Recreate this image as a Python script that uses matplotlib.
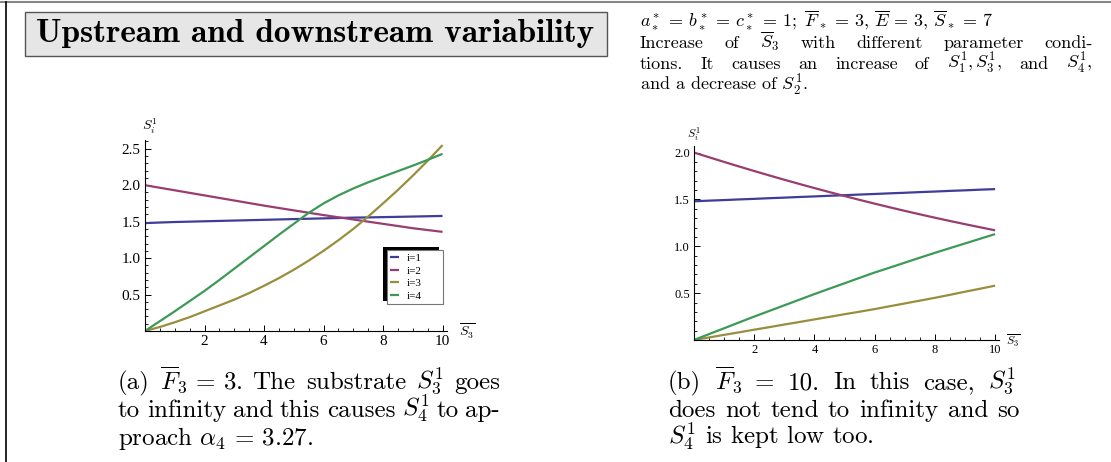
import matplotlib
matplotlib.use("Agg")
import matplotlib.pyplot as plt
from matplotlib.patches import Rectangle
from matplotlib.lines import Line2D

plt.rcParams["mathtext.fontset"] = "cm"
plt.rcParams["axes.formatter.use_mathtext"] = True

# ─── Data (every 0.5 on the S3 axis) ───
s3_bar = [0, 0.5, 1, 1.5, 2, 2.5, 3, 3.5, 4, 4.5, 5,
          5.5, 6, 6.5, 7, 7.5, 8, 8.5, 9, 9.5, 10]
labels = ["i=1", "i=2", "i=3", "i=4"]

# (a) F3 = 3
a_s1 = [1.48, 1.488, 1.495, 1.50, 1.505, 1.51, 1.515, 1.52, 1.525, 1.53, 1.535,
        1.54, 1.545, 1.55, 1.555, 1.558, 1.562, 1.566, 1.57, 1.574, 1.578]
a_s2 = [2.0, 1.965, 1.93, 1.895, 1.86, 1.825, 1.79, 1.755, 1.72, 1.687, 1.655,
        1.622, 1.59, 1.56, 1.53, 1.50, 1.47, 1.44, 1.41, 1.385, 1.36]
a_s3 = [0, 0.055, 0.12, 0.19, 0.27, 0.35, 0.43, 0.52, 0.62, 0.725, 0.84,
        0.965, 1.10, 1.245, 1.40, 1.57, 1.75, 1.935, 2.13, 2.335, 2.55]
a_s4 = [0, 0.135, 0.27, 0.41, 0.55, 0.70, 0.855, 1.01, 1.165, 1.32, 1.47,
        1.62, 1.75, 1.86, 1.955, 2.04, 2.117, 2.193, 2.268, 2.347, 2.43]

# (b) F3 = 10
b_s1 = [1.48, 1.487, 1.493, 1.50, 1.506, 1.513, 1.519, 1.526, 1.532, 1.539, 1.545,
        1.552, 1.558, 1.565, 1.571, 1.578, 1.584, 1.591, 1.597, 1.604, 1.61]
b_s2 = [2.0, 1.95, 1.90, 1.851, 1.803, 1.756, 1.71, 1.665, 1.621, 1.578, 1.536,
        1.495, 1.455, 1.416, 1.378, 1.341, 1.305, 1.27, 1.236, 1.203, 1.17]
b_s3 = [0, 0.027, 0.055, 0.082, 0.11, 0.137, 0.165, 0.192, 0.22, 0.247, 0.275,
        0.302, 0.33, 0.36, 0.39, 0.42, 0.45, 0.482, 0.515, 0.547, 0.58]
b_s4 = [0, 0.063, 0.125, 0.188, 0.25, 0.31, 0.37, 0.43, 0.49, 0.548, 0.605,
        0.663, 0.72, 0.772, 0.825, 0.878, 0.93, 0.98, 1.03, 1.08, 1.13]

colors = ["#3f3d99", "#993d71", "#998e3d", "#3d9956"]

W, H = 1111, 462
fig = plt.figure(figsize=(W / 100, H / 100), dpi=100, facecolor="white")
renderer = fig.canvas.get_renderer()


def px(x0, y0, x1, y1):
    """pixel box (top-left origin) -> figure fraction rect"""
    return [x0 / W, 1 - y1 / H, (x1 - x0) / W, (y1 - y0) / H]


def style_axes(ax, ymax, yticks, fs, xmax):
    ax.set_xlim(0, xmax)
    ax.set_ylim(0, ymax)
    for s in ("top", "right"):
        ax.spines[s].set_visible(False)
    for s in ("left", "bottom"):
        ax.spines[s].set_linewidth(0.8)
    ax.set_xticks([2, 4, 6, 8, 10])
    ax.set_xticks([v * 0.5 for v in range(1, 21) if v % 4], minor=True)
    ax.set_yticks(yticks)
    ax.set_yticks([v * 0.1 for v in range(1, int(ymax * 10) + 1)], minor=True)
    ax.set_xticklabels([str(v) for v in [2, 4, 6, 8, 10]])
    ax.set_yticklabels([f"{v:.1f}" for v in yticks])
    ax.tick_params(which="major", direction="in", length=4, width=0.7,
                   labelsize=fs, pad=3)
    ax.tick_params(which="minor", direction="in", length=2, width=0.6)
    for t in ax.get_xticklabels() + ax.get_yticklabels():
        t.set_fontfamily("Liberation Serif")
    ax.patch.set_alpha(0)


def put_line(x0, yb, words, fs, x1=None, family="cmr10"):
    """write one line of text; if x1 is given, spread the words to fill x0..x1"""
    if x1 is None:
        fig.text(x0 / W, 1 - yb / H, " ".join(words), fontfamily=family,
                 fontsize=fs, ha="left", va="baseline")
        return
    arts = [fig.text(0, 1 - yb / H, w, fontfamily=family, fontsize=fs,
                     ha="left", va="baseline") for w in words]
    widths = [a.get_window_extent(renderer).width for a in arts]
    gap = (x1 - x0 - sum(widths)) / max(len(words) - 1, 1)
    x = x0
    for a, w in zip(arts, widths):
        a.set_x(x / W)
        x += w + gap


# ─── Plot (a) ───
ax1 = fig.add_axes(px(145, 140, 447, 331))
for ys, c, l in zip([a_s1, a_s2, a_s3, a_s4], colors, labels):
    ax1.plot(s3_bar, ys, color=c, lw=1.6, label=l, solid_capstyle="butt")
style_axes(ax1, 2.62, [0.5, 1.0, 1.5, 2.0, 2.5], 11, 10.15)
fig.text(150 / W, 1 - 126 / H, r"$S_i^1$", fontsize=10, ha="center", va="center")
fig.text(459 / W, 1 - 331 / H, r"$\overline{S_3}$", fontsize=10, ha="left", va="center")

leg = ax1.legend(loc="upper left", mode="expand",
                 bbox_to_anchor=(387 / W, 1 - 304 / H, 56 / W, 54 / H),
                 bbox_transform=fig.transFigure, fancybox=False, frameon=True,
                 edgecolor="#777777", framealpha=1, borderpad=0.3,
                 handlelength=0.8, handletextpad=0.7, labelspacing=0.25,
                 borderaxespad=0, prop={"family": "Liberation Serif", "size": 8})
leg.get_frame().set_linewidth(0.8)
leg.set_zorder(10)
fig.canvas.draw()
bb = leg.get_window_extent()
shadow = Rectangle((bb.x0 - 4, bb.y0 + 3), bb.width, bb.height,
                   transform=None, facecolor="black", edgecolor="none",
                   zorder=9, clip_on=False)
ax1.add_artist(shadow)

# ─── Plot (b) ───
ax2 = fig.add_axes(px(694, 146, 999, 340))
for ys, c, l in zip([b_s1, b_s2, b_s3, b_s4], colors, labels):
    ax2.plot(s3_bar, ys, color=c, lw=1.6, label=l, solid_capstyle="butt")
style_axes(ax2, 2.07, [0.5, 1.0, 1.5, 2.0], 9, 10.13)
fig.text(694 / W, 1 - 134 / H, r"$S_i^1$", fontsize=8.5, ha="center", va="center")
fig.text(1006 / W, 1 - 341 / H, r"$\overline{S_3}$", fontsize=8.5, ha="left", va="center")

# ─── Title box ───
fig.add_artist(Rectangle((25 / W, 1 - 56 / H), 582 / W, 44 / H,
                         transform=fig.transFigure, facecolor="#e6e6e6",
                         edgecolor="#555555", lw=1.0))
fig.text(315 / W, 1 - 34 / H, "Upstream and downstream variability",
         fontfamily="cmb10", fontsize=24, ha="center", va="center")

# ─── Top-right notes ───
NOTE_FS = 13
put_line(640, 26, [r"$a_*^*\,=\,b_*^*\,=\,c_*^*\,=\,1;\ \overline{F}_*\,=\,3,\,\overline{E}\,=\,3,\,\overline{S}_*\,=\,7$"], NOTE_FS)
put_line(640, 48, ["Increase", "of", r"$\overline{S}_3$", "with", "different",
                   "parameter", "condi-"], NOTE_FS, x1=1093)
put_line(640, 69, ["tions.", "It", "causes", "an", "increase", "of",
                   r"$S_1^1, S_3^1$,", "and", r"$S_4^1$,"], NOTE_FS, x1=1092)
put_line(640, 91, ["and", "a", "decrease", "of", r"$S_2^1$."], NOTE_FS)

# ─── Captions ───
CAP_FS = 18
put_line(118, 389, ["(a)", r"$\overline{F}_3\,=\,3$.", "The", "substrate",
                    r"$S_3^1$", "goes"], CAP_FS, x1=500)
put_line(118, 417, ["to", "infinity", "and", "this", "causes", r"$S_4^1$",
                    "to", "ap-"], CAP_FS, x1=500)
put_line(118, 445, ["proach", r"$\alpha_4\,=\,3.27$."], CAP_FS)

put_line(668, 389, ["(b)", r"$\overline{F}_3$", "=", "10.", "In", "this",
                    "case,", r"$S_3^1$"], CAP_FS, x1=1016)
put_line(668, 417, ["does", "not", "tend", "to", "infinity", "and", "so"],
         CAP_FS, x1=1020)
put_line(668, 445, [r"$S_4^1$", "is", "kept", "low", "too."], CAP_FS)

# ─── Page frame ───
fig.add_artist(Line2D([0, 1], [1 - 2 / H, 1 - 2 / H], transform=fig.transFigure,
                      color="#888888", lw=1.5))
fig.add_artist(Line2D([6 / W, 6 / W], [0, 1 - 2 / H], transform=fig.transFigure,
                      color="black", lw=1.2))

fig.savefig("out.png", dpi=100, facecolor="white")
